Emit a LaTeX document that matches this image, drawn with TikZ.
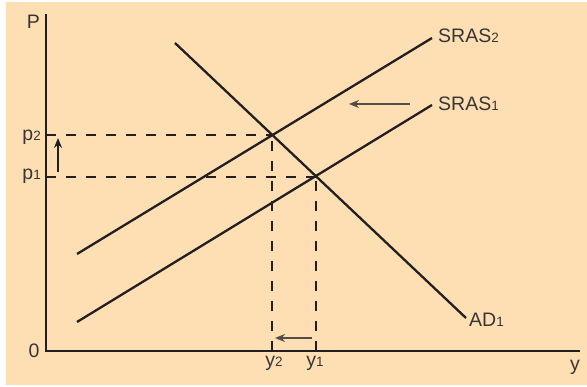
\documentclass[tikz,border=0pt]{standalone}
\usepackage{fontspec}
\setmainfont{Liberation Sans}
\usetikzlibrary{arrows.meta}
\definecolor{bgcream}{HTML}{FDDFB3}
\definecolor{ink}{HTML}{231F20}
\definecolor{arrowgray}{HTML}{554C46}
\newcommand\smalldigit[1]{{\fontsize{13.5}{14}\selectfont #1}}
\begin{document}
\begin{tikzpicture}[x=1pt,y=-1pt,
  curve/.style={line width=2.3pt, draw=ink},
  axisline/.style={line width=2.6pt, draw=ink, line join=miter},
  guide/.style={line width=1.1pt, draw=ink, dash pattern=on 10pt off 10pt},
  shiftarrow/.style={line width=1.6pt, draw=arrowgray, -{Stealth[length=10pt,width=8pt]}},
  uparrow/.style={line width=1.3pt, draw=ink, -{Stealth[length=10pt,width=8pt]}},
  lbl/.style={inner sep=0pt, font=\fontsize{19.5}{21}\selectfont, text=ink!90}]
\useasboundingbox (0,0) rectangle (587,387);
\fill[white] (0,0) rectangle (587,387);
\fill[bgcream] (6,2) rectangle (587,385);

% axes
\coordinate (O) at (46,351);
\coordinate (ytop) at (46,14);
\coordinate (xend) at (580,351);

% curve end points and equilibria
\coordinate (s2a) at (77,254);
\coordinate (s2b) at (432,38);
\coordinate (s1a) at (77,322);
\coordinate (s1b) at (432,105);
\coordinate (ada) at (175,43);
\coordinate (adb) at (466,318);
\coordinate (E2) at (272,135);
\coordinate (E1) at (316,177);

% guides
\draw[guide] (O |- E2) -- (E2);
\draw[guide] (O -| E2) -- (E2);
\draw[guide] (O |- E1) -- (E1);
\draw[guide] (O -| E1) -- (E1);

\draw[axisline] (ytop) -- (O) -- (xend);

\draw[curve] (s2a) -- (s2b);
\draw[curve] (s1a) -- (s1b);
\draw[curve] (ada) -- (adb);

% shift arrows
\coordinate (upT) at (58,172);
\coordinate (upH) at (58,138);
\draw[uparrow] (upT) -- (upH);
\coordinate (lT) at (410,104);
\coordinate (lH) at (349,104);
\draw[shiftarrow] (lT) -- (lH);
\coordinate (bT) at (312,338);
\coordinate (bH) at (275,338);
\draw[shiftarrow] (bT) -- (bH);

% labels
\node[lbl, anchor=base west] (sras2) at (438,43) {SRAS\smalldigit{2}};
\node[lbl, anchor=base west] (sras1) at (438,111) {SRAS\smalldigit{1}};
\node[lbl, anchor=base west] (ad1) at (469,327) {AD\smalldigit{1}};
\node[lbl, anchor=base] (ylab) at (575,371) {y};
\node[lbl, anchor=base east] (p2) at (41,141) {p\smalldigit{2}};
\node[lbl, anchor=base east] (p1) at (41,180) {p\smalldigit{1}};
\node[lbl, anchor=base] (y2) at (274,367) {y\smalldigit{2}};
\node[lbl, anchor=base] (y1) at (315,367) {y\smalldigit{1}};
\node[lbl, anchor=base] (Plab) at (33.5,29) {P};
\node[lbl, anchor=base] (zero) at (34,358) {0};
\end{tikzpicture}
\end{document}
